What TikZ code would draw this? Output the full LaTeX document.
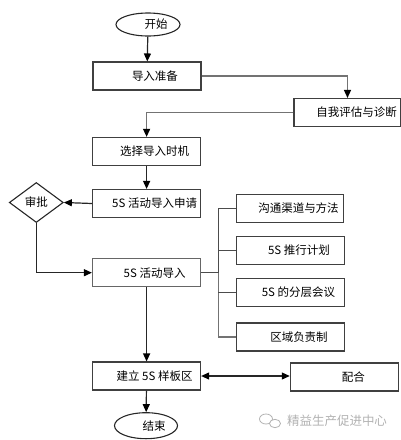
\documentclass[tikz,border=0pt]{standalone}
\usepackage{fontspec}
\newfontfamily\cjk{Noto Sans CJK SC}
\usetikzlibrary{arrows.meta,shapes.geometric}
\begin{document}
\begin{tikzpicture}[x=1pt,y=-1pt,
  box/.style={draw=black!75, line width=1.1pt, minimum height=28pt, minimum width=108pt, inner sep=0pt, font=\cjk\fontsize{11.5}{13}\selectfont},
  rbox/.style={box, minimum width=107.5pt},
  oval/.style={ellipse, draw=black!85, line width=1.1pt, inner sep=0pt, font=\cjk\fontsize{11.5}{13}\selectfont},
  tip/.tip={Triangle[length=8pt,width=7pt,color=black]},
  arr/.style={-tip, line width=1.2pt, draw=black!85},
  conn/.style={line width=1.2pt, draw=black!70},
  grayline/.style={line width=1.3pt, draw=black!55}]
\useasboundingbox (0,0) rectangle (401,440);
\node[oval, minimum width=64pt, minimum height=23pt] (start) at (148,24.5) {\hspace{16pt}开始};
\node[box] (prep) at (147,76) {\hspace{16pt}导入准备};
\node[box, minimum width=107pt] (self) at (347.5,112.5) {\hspace{18pt}自我评估与诊断};
\node[box] (choose) at (146.6,151.4) {\hspace{16pt}选择导入时机};
\node[box] (apply) at (146.6,203.5) {\hspace{16pt}5S 活动导入申请};
\node[diamond, draw=black!85, line width=1.1pt, inner sep=0pt, aspect=1.35, minimum width=54pt, minimum height=40pt, font=\cjk\fontsize{11.5}{13}\selectfont] (approve) at (36.3,202.5) {审批};
\node[box, draw=black!60, line width=1.4pt] (intro) at (146.6,272.7) {\hspace{16pt}5S 活动导入};
\node[rbox] (b1) at (290,208.3) {\hspace{17pt}沟通渠道与方法};
\node[rbox] (b2) at (290.5,250.5) {\hspace{17pt}5S 推行计划};
\node[rbox] (b3) at (290.5,292.5) {\hspace{16pt}5S 的分层会议};
\node[rbox] (b4) at (290.5,337) {\hspace{17pt}区域负责制};
\node[box] (build) at (146.6,376) {\hspace{16pt}建立 5S 样板区};
\node[box] (coop) at (344.3,377) {\hspace{18pt}配合};
\node[oval, minimum width=63pt, minimum height=26pt] (finish) at (146,425.7) {\hspace{16pt}结束};
% watermark
\node[text=black!30, font=\cjk\fontsize{12.5}{14}\selectfont, inner sep=0pt] (wm) at (337,421) {精益生产促进中心};
\draw[black!30, line width=0.8pt] (266,419) ellipse (6.5 and 5);
\draw[black!30, line width=0.8pt, fill=white] (275,423.5) ellipse (5.5 and 4.2);
% connectors
\draw[arr] (start) -- (prep);
\draw[grayline, -tip] (prep.east) -| (self.north);
\draw[grayline, -tip] (self.west) -| (choose.north);
\draw[arr] (choose) -- (apply);
\draw[arr] (apply.west) -- (approve.east);
\draw[arr] (approve.south) |- (intro.west);
\coordinate (trunk) at (218.3,272.7);
\draw[conn] (intro.east) -- (trunk);
\draw[conn] (trunk) |- (b1.west);
\draw[grayline] (trunk) |- (b4.west);
\draw[conn] (trunk |- b2.west) -- (b2.west);
\draw[conn] (trunk |- b3.west) -- (b3.west);
\draw[arr] (intro) -- (build);
\draw[arr, tip-tip] (build.east) -- (build.east -| coop.west);
\draw[arr] (build) -- (finish);
\end{tikzpicture}
\end{document}
